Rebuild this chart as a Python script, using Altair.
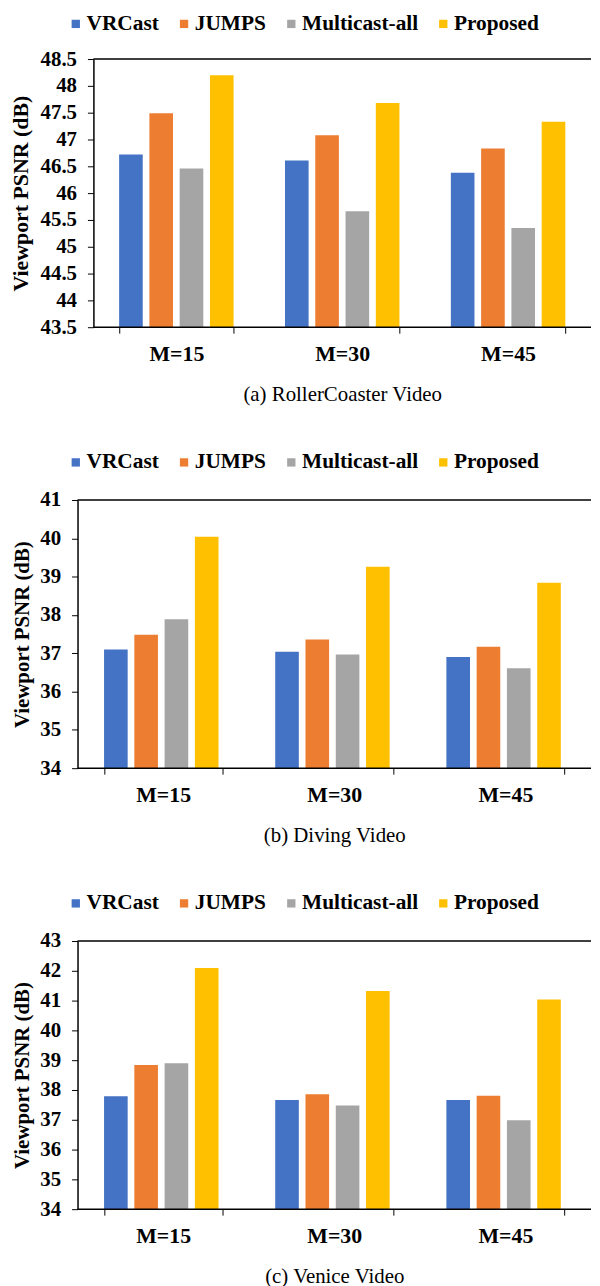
import altair as alt
import pandas as pd

groups = ["M=15", "M=30", "M=45"]
methods = ["VRCast", "JUMPS", "Multicast-all", "Proposed"]
colors = ["#4472C4", "#ED7D31", "#A5A5A5", "#FFC000"]

# (a) RollerCoaster
roller_vrcast = [46.72, 46.61, 46.38]
roller_jumps = [47.49, 47.08, 46.83]
roller_multicast = [46.46, 45.66, 45.35]
roller_proposed = [48.20, 47.68, 47.33]
roller_ticks = [43.5, 44, 44.5, 45, 45.5, 46, 46.5, 47, 47.5, 48, 48.5]

# (b) Diving
diving_vrcast = [37.10, 37.04, 36.90]
diving_jumps = [37.48, 37.36, 37.17]
diving_multicast = [37.89, 36.97, 36.61]
diving_proposed = [40.04, 39.26, 38.84]
diving_ticks = [34, 35, 36, 37, 38, 39, 40, 41]

# (c) Venice
venice_vrcast = [37.79, 37.66, 37.66]
venice_jumps = [38.84, 37.86, 37.81]
venice_multicast = [38.90, 37.48, 36.98]
venice_proposed = [42.09, 41.32, 41.04]
venice_ticks = [34, 35, 36, 37, 38, 39, 40, 41, 42, 43]

captions = ["(a) RollerCoaster Video", "(b) Diving Video", "(c) Venice Video"]
y_title = "Viewport PSNR (dB)"

FONT = "Liberation Serif"
W = 517
H = 270


def panel(series, ticks, caption, shift, title_x, title_size, legend_x, legend_y):
    rows = []
    for m, vals in zip(methods, series):
        for g, v in zip(groups, vals):
            rows.append({"group": g, "method": m, "value": v})
    df = pd.DataFrame(rows)
    lo, hi = ticks[0], ticks[-1]

    bars = alt.Chart(df).mark_bar().encode(
        x=alt.X(
            "group:N",
            sort=groups,
            scale=alt.Scale(range=[shift, W], paddingInner=0.31, paddingOuter=0.155),
            axis=alt.Axis(
                title=caption,
                tickBand="extent",
                domain=False,
                labelAngle=0,
                labelFont=FONT,
                labelFontSize=22,
                labelFontWeight="bold",
                labelColor="black",
                labelBaseline="alphabetic",
                labelPadding=28,
                tickSize=6,
                tickColor="black",
                titleFont=FONT,
                titleFontSize=21,
                titleFontWeight="normal",
                titleColor="black",
                titleBaseline="alphabetic",
                titleX=(shift + W) / 2,
                titleY=74,
            ),
        ),
        xOffset=alt.XOffset(
            "method:N",
            sort=methods,
            scale=alt.Scale(paddingInner=0.22, paddingOuter=0),
        ),
        y=alt.Y(
            "value:Q",
            scale=alt.Scale(domain=[lo, hi], nice=False, zero=False),
            axis=alt.Axis(
                title=y_title,
                values=ticks,
                tickCount=len(ticks),
                labelExpr="'' + datum.value",
                labelOverlap=False,
                offset=-shift,
                grid=False,
                labelFont=FONT,
                labelFontSize=21,
                labelFontWeight="bold",
                labelColor="black",
                labelPadding=11,
                tickSize=6,
                tickColor="black",
                domainColor="black",
                domainWidth=1.5,
                titleFont=FONT,
                titleFontSize=title_size,
                titleFontWeight="bold",
                titleColor="black",
                titleAngle=270,
                titleAlign="center",
                titleBaseline="alphabetic",
                titleX=title_x,
                titleY=H / 2,
            ),
        ),
        y2=alt.datum(lo),
        color=alt.Color(
            "method:N",
            sort=methods,
            scale=alt.Scale(domain=methods, range=colors),
            legend=alt.Legend(
                title=None,
                orient="none",
                direction="horizontal",
                legendX=legend_x,
                legendY=legend_y,
                symbolType="square",
                symbolSize=70,
                symbolStrokeWidth=0,
                labelFont=FONT,
                labelFontSize=21.5,
                labelFontWeight="bold",
                labelColor="black",
                labelOffset=0,
                columnPadding=14,
                padding=0,
            ),
        ),
    )

    frame = pd.DataFrame({"v": [lo, hi]})
    lines = alt.Chart(frame).mark_rule(color="black", strokeWidth=1.5).encode(
        y=alt.Y("v:Q"),
        x=alt.value(shift),
        x2=alt.value(W),
    )

    return alt.layer(bars, lines).properties(width=W, height=H)


p1 = panel(
    [roller_vrcast, roller_jumps, roller_multicast, roller_proposed],
    roller_ticks, captions[0], 16, -66, 22, -12.5, -46.5,
)
p2 = panel(
    [diving_vrcast, diving_jumps, diving_multicast, diving_proposed],
    diving_ticks, captions[1], 0, -49.5, 21, -12.5, -49,
)
p3 = panel(
    [venice_vrcast, venice_jumps, venice_multicast, venice_proposed],
    venice_ticks, captions[2], 0, -49.5, 21, -12.5, -49,
)

chart = (
    alt.vconcat(p1, p2, p3, spacing=47)
    .resolve_scale(color="independent", x="independent", y="independent")
    .properties(padding={"left": 2, "top": 0, "right": 0, "bottom": 0})
    .configure_view(stroke=None)
)

chart.save("out.html", embed_options={"renderer": "svg", "actions": False})
